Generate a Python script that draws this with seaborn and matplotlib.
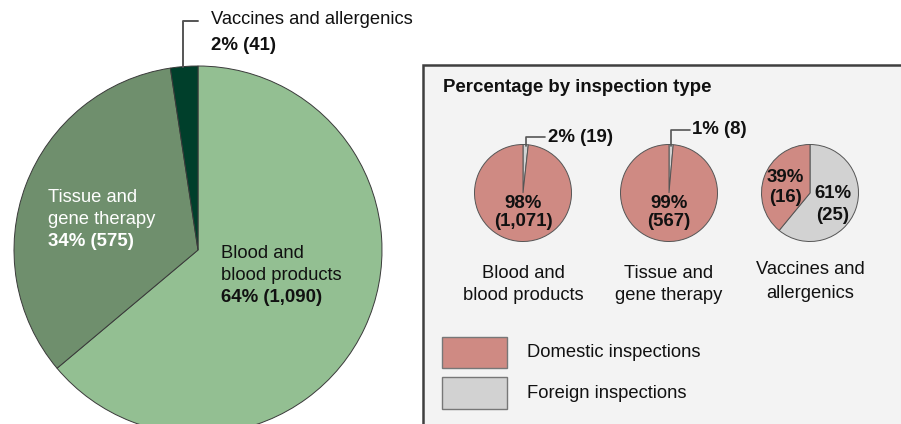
import matplotlib
matplotlib.use("Agg")
import matplotlib.pyplot as plt
from matplotlib.patches import Rectangle
import seaborn as sns

# Overall inspections by product area
areas = ["Blood and\nblood products", "Tissue and\ngene therapy", "Vaccines and\nallergenics"]
area_counts = [1090, 575, 41]
area_pct = ["64%", "34%", "2%"]

# Domestic / foreign split within each area
domestic_counts = [1071, 567, 16]
foreign_counts = [19, 8, 25]
domestic_pct = ["98%", "99%", "39%"]
foreign_pct = ["2%", "1%", "61%"]

legend_labels = ["Domestic inspections", "Foreign inspections"]
panel_title = "Percentage by inspection type"

sns.set_theme(style="white")
plt.rcParams["font.family"] = ["Liberation Sans", "DejaVu Sans"]

area_colors = ["#93bf92", "#6f8f6d", "#003f2b"]
dom_color = "#cf8a83"
for_color = "#d2d2d2"
edge = "#3a3a3a"
lead = "#555555"
ink = "#111111"

W, H = 901, 424
fig = plt.figure(figsize=(W / 100, H / 100), dpi=100)
ax = fig.add_axes([0, 0, 1, 1])


def Y(py):
    return H - py


fs = 13.2      # regular text
fsb = 13.4     # bold values

# Large pie: all inspections
ax.pie(area_counts, colors=area_colors, startangle=90, counterclock=False,
       center=(198, Y(250)), radius=184,
       wedgeprops=dict(edgecolor=edge, linewidth=0.7))

# Vaccines leader and label
ax.plot([183, 183, 198], [Y(67), Y(21), Y(21)], color=lead, lw=1.4)
ax.text(211, Y(20), "Vaccines and allergenics", fontsize=fs, va="center", ha="left", color=ink)
ax.text(211, Y(45), f"{area_pct[2]} ({area_counts[2]:,})", fontsize=fsb,
        fontweight="bold", va="center", ha="left", color=ink)

# Tissue label (white)
ax.text(48, Y(198), "Tissue and", fontsize=fs, va="center", ha="left", color="white")
ax.text(48, Y(219), "gene therapy", fontsize=fs, va="center", ha="left", color="white")
ax.text(48, Y(241), f"{area_pct[1]} ({area_counts[1]:,})", fontsize=fsb,
        fontweight="bold", va="center", ha="left", color="white")

# Blood label
ax.text(221, Y(254), "Blood and", fontsize=fs, va="center", ha="left", color=ink)
ax.text(221, Y(276), "blood products", fontsize=fs, va="center", ha="left", color=ink)
ax.text(221, Y(298), f"{area_pct[0]} ({area_counts[0]:,})", fontsize=fsb,
        fontweight="bold", va="center", ha="left", color=ink)

# Side panel
ax.add_patch(Rectangle((423, Y(440)), 600, 440 - 65, facecolor="#f3f3f3",
                       edgecolor="#3f3f3f", linewidth=1.8, zorder=0))
ax.text(443, Y(88), panel_title, fontsize=fsb, fontweight="bold",
        va="center", ha="left", color=ink)

centers_x = [523, 669, 810]
cy = 193
r = 48.5
for i, cx in enumerate(centers_x):
    ax.pie([foreign_counts[i], domestic_counts[i]], colors=[for_color, dom_color],
           startangle=90, counterclock=False, center=(cx, Y(cy)), radius=r,
           wedgeprops=dict(edgecolor="#555555", linewidth=0.7))

# Category captions under the small pies
cap_y = [(273, 296), (273, 296), (270, 293)]
for i, cx in enumerate(centers_x):
    l1, l2 = areas[i].split("\n")
    ax.text(cx, Y(cap_y[i][0]), l1, fontsize=fs, ha="center", va="center", color=ink)
    ax.text(cx, Y(cap_y[i][1]), l2, fontsize=fs, ha="center", va="center", color=ink)

# Values inside small pies
for i in range(2):
    cx = centers_x[i]
    ax.text(cx, Y(203), domestic_pct[i], fontsize=fsb, fontweight="bold",
            ha="center", va="center", color=ink)
    ax.text(cx, Y(222), f"({domestic_counts[i]:,})", fontsize=fsb, fontweight="bold",
            ha="center", va="center", color=ink)
ax.text(785, Y(178), domestic_pct[2], fontsize=fsb, fontweight="bold", ha="center", va="center", color=ink)
ax.text(785, Y(197), f"({domestic_counts[2]})", fontsize=fsb, fontweight="bold", ha="center", va="center", color=ink)
ax.text(833, Y(194), foreign_pct[2], fontsize=fsb, fontweight="bold", ha="center", va="center", color=ink)
ax.text(833, Y(215), f"({foreign_counts[2]})", fontsize=fsb, fontweight="bold", ha="center", va="center", color=ink)

# Leaders for thin foreign slices
ax.plot([526, 526, 545], [Y(146), Y(137), Y(137)], color=lead, lw=1.2)
ax.text(548, Y(137), f"{foreign_pct[0]} ({foreign_counts[0]})", fontsize=fsb,
        fontweight="bold", ha="left", va="center", color=ink)
ax.plot([671, 671, 690], [Y(146), Y(130), Y(130)], color=lead, lw=1.2)
ax.text(692, Y(130), f"{foreign_pct[1]} ({foreign_counts[1]})", fontsize=fsb,
        fontweight="bold", ha="left", va="center", color=ink)

# Legend swatches
for (y0, y1), col, lab in zip([(337, 368), (377, 409)], [dom_color, for_color], legend_labels):
    ax.add_patch(Rectangle((442, Y(y1)), 65, y1 - y0, facecolor=col,
                           edgecolor="#777777", linewidth=1))
    ax.text(527, Y((y0 + y1) / 2), lab, fontsize=fs, ha="left", va="center", color=ink)

ax.set_xlim(0, W)
ax.set_ylim(0, H)
ax.set_aspect("auto")
ax.axis("off")

fig.savefig("out.png", dpi=100, facecolor="white")
